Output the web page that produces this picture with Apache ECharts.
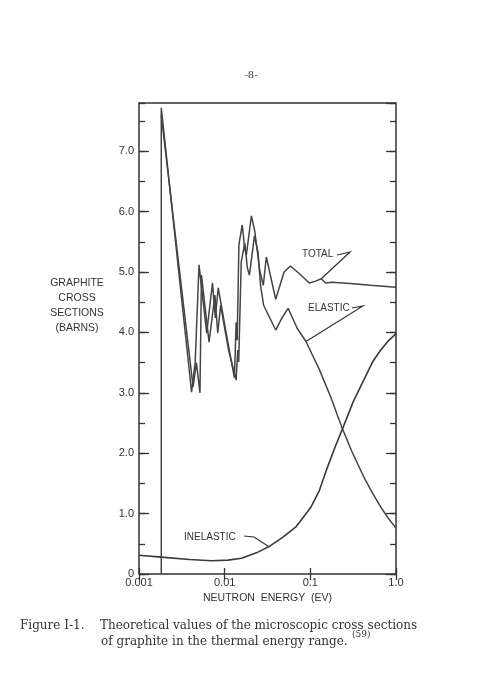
<!DOCTYPE html>
<html>
<head>
<meta charset="utf-8">
<script src="https://cdn.jsdelivr.net/npm/echarts@6/dist/echarts.min.js"></script>
<style>
  html, body { margin: 0; padding: 0; background: #ffffff; }
  #main { width: 504px; height: 697px; }
</style>
</head>
<body>
<div id="main"></div>
<script>
// graphite cross sections

// [energy (eV), sigma (barns)]
var totalData = [
    [0.00182, 0], [0.00182, 7.72], [0.00411, 3.01], [0.00453, 3.51], [0.00502, 5.12],
    [0.00617, 3.99], [0.00721, 4.82], [0.00778, 4.24], [0.00841, 4.74], [0.01036, 4.01],
    [0.0130, 3.25], [0.01361, 4.17], [0.0140, 3.87], [0.01466, 5.45], [0.01604, 5.78],
    [0.01709, 5.40], [0.0179, 5.28], [0.02051, 5.93], [0.02244, 5.68], [0.02572, 5.02],
    [0.02823, 4.78], [0.03065, 5.25], [0.0394, 4.55], [0.0494, 5.0], [0.0586, 5.10],
    [0.0735, 4.98], [0.0973, 4.82], [0.1148, 4.85], [0.134, 4.89], [0.151, 4.82],
    [0.178, 4.83], [0.291, 4.81], [0.504, 4.78], [1.0, 4.75]
];
var elasticData = [
    [0.00182, 7.6], [0.00428, 3.1], [0.00468, 3.5], [0.00515, 3.0], [0.00536, 4.95],
    [0.00657, 3.84], [0.00769, 4.62], [0.0083, 3.99], [0.00897, 4.45], [0.01109, 3.71],
    [0.01361, 3.21], [0.01419, 3.71], [0.01458, 3.51], [0.01561, 5.17], [0.01718, 5.48],
    [0.0184, 5.07], [0.01945, 4.95], [0.02228, 5.60], [0.02449, 5.33], [0.02624, 4.78],
    [0.02851, 4.45], [0.0394, 4.04], [0.0467, 4.24], [0.055, 4.40], [0.0702, 4.07],
    [0.0889, 3.85], [0.128, 3.38], [0.173, 2.93], [0.232, 2.44], [0.307, 2.02],
    [0.42, 1.61], [0.532, 1.34], [0.663, 1.11], [0.826, 0.91], [1.0, 0.76]
];
var inelasticData = [
    [0.001, 0.31], [0.00182, 0.28], [0.00388, 0.24], [0.00708, 0.22], [0.01094, 0.23],
    [0.01575, 0.26], [0.0235, 0.35], [0.0326, 0.45], [0.0479, 0.61], [0.0678, 0.78],
    [0.102, 1.11], [0.128, 1.39], [0.154, 1.72], [0.193, 2.09], [0.243, 2.44],
    [0.316, 2.85], [0.42, 3.21], [0.532, 3.51], [0.663, 3.71], [0.826, 3.87], [1.0, 3.98]
];

var xTickValues = [0.001, 0.01, 0.1, 1];
var xTickLabels = ['0.001', '0.01', '0.1', '1.0'];

var ink = '#333333';
var labelFont = 'Liberation Sans';

var chart = echarts.init(document.getElementById('main'), null, {renderer: 'canvas'});

function xLabel(v) {
    for (var i = 0; i < xTickValues.length; i++) {
        if (Math.abs(Math.log10(v) - Math.log10(xTickValues[i])) < 1e-6) {
            return xTickLabels[i];
        }
    }
    return '';
}

function yAxisBase(pos, tickLen, interval, labels) {
    return {
        type: 'value',
        position: pos,
        min: 0,
        max: 7.8,
        interval: interval,
        axisLine: {show: false},
        axisTick: {show: true, inside: true, length: tickLen, lineStyle: {color: ink, width: 1.3}},
        splitLine: {show: false},
        axisLabel: {
            show: labels,
            showMaxLabel: false,
            margin: 5,
            color: ink,
            fontFamily: labelFont,
            fontSize: 11,
            formatter: function (v) {
                return v === 0 ? '0' : v.toFixed(1);
            }
        }
    };
}

var option = {
    animation: false,
    backgroundColor: '#ffffff',
    grid: {
        left: 139,
        right: 108,
        top: 103,
        bottom: 123,
        show: true,
        borderColor: ink,
        borderWidth: 1.5,
        backgroundColor: 'transparent'
    },
    xAxis: [
        {
            type: 'log',
            logBase: 10,
            min: 0.001,
            max: 1,
            position: 'bottom',
            axisLine: {show: false},
            axisTick: {show: true, inside: true, length: 6, lineStyle: {color: ink, width: 1.3}},
            splitLine: {show: false},
            minorTick: {show: false},
            axisLabel: {
                color: ink,
                fontFamily: labelFont,
                fontSize: 11,
                margin: 3,
                formatter: xLabel
            },
            name: 'NEUTRON  ENERGY  (EV)',
            nameLocation: 'middle',
            nameGap: 19,
            nameTextStyle: {color: ink, fontFamily: labelFont, fontSize: 10.5}
        },
        {
            type: 'log',
            logBase: 10,
            min: 0.001,
            max: 1,
            position: 'top',
            axisLine: {show: false},
            axisTick: {show: true, inside: true, length: 6, lineStyle: {color: ink, width: 1.3}},
            splitLine: {show: false},
            axisLabel: {show: false}
        }
    ],
    yAxis: [
        yAxisBase('left', 10, 1, true),
        yAxisBase('right', 10, 1, false),
        yAxisBase('left', 6, 0.5, false),
        yAxisBase('right', 6, 0.5, false)
    ],
    series: [
        {
            name: 'TOTAL',
            type: 'line',
            data: totalData,
            showSymbol: false,
            symbol: 'none',
            xAxisIndex: 0,
            yAxisIndex: 0,
            lineStyle: {color: '#444444', width: 1.5}
        },
        {
            name: 'ELASTIC',
            type: 'line',
            data: elasticData,
            showSymbol: false,
            symbol: 'none',
            xAxisIndex: 0,
            yAxisIndex: 0,
            lineStyle: {color: '#444444', width: 1.5}
        },
        {
            name: 'INELASTIC',
            type: 'line',
            data: inelasticData,
            showSymbol: false,
            symbol: 'none',
            xAxisIndex: 0,
            yAxisIndex: 0,
            lineStyle: {color: '#3a3a3a', width: 1.6}
        }
    ]
};
chart.setOption(option);

// labels on the curves, with their leader lines
var tipTotal = chart.convertToPixel({xAxisIndex: 0, yAxisIndex: 0}, [0.134, 4.89]);
var tipElastic = chart.convertToPixel({xAxisIndex: 0, yAxisIndex: 0}, [0.0889, 3.85]);
var tipInelastic = chart.convertToPixel({xAxisIndex: 0, yAxisIndex: 0}, [0.033, 0.45]);

function txt(s, x, y, font, align) {
    return {
        type: 'text',
        x: x,
        y: y,
        silent: true,
        style: {
            text: s,
            font: font,
            fill: ink,
            textAlign: align || 'left',
            align: align || 'left',
            textVerticalAlign: 'middle',
            verticalAlign: 'middle',
            lineHeight: 15
        }
    };
}

function leader(points) {
    return {
        type: 'polyline',
        silent: true,
        shape: {points: points},
        style: {stroke: ink, lineWidth: 1.2, fill: null}
    };
}

chart.setOption({
    graphic: [
        txt('-8-', 251, 75, '10px "DejaVu Serif"', 'center'),
        txt('GRAPHITE\nCROSS\nSECTIONS\n(BARNS)', 77, 306, '10.5px "Liberation Sans"', 'center'),
        txt('TOTAL', 302, 254, '10px "Liberation Sans"'),
        leader([[337, 255], [350, 252], tipTotal]),
        txt('ELASTIC', 308, 308, '10px "Liberation Sans"'),
        leader([[352, 308], [363, 306], tipElastic]),
        txt('INELASTIC', 184, 537, '10px "Liberation Sans"'),
        leader([[244, 536], [254, 537], tipInelastic]),
        txt('Figure I-1.', 20, 626, '12px "DejaVu Serif"'),
        txt('Theoretical values of the microscopic cross sections', 100, 626, '12px "DejaVu Serif"'),
        txt('of graphite in the thermal energy range.', 101, 642, '12px "DejaVu Serif"'),
        txt('(59)', 352, 635, '9px "DejaVu Serif"')
    ]
});
</script>
</body>
</html>
